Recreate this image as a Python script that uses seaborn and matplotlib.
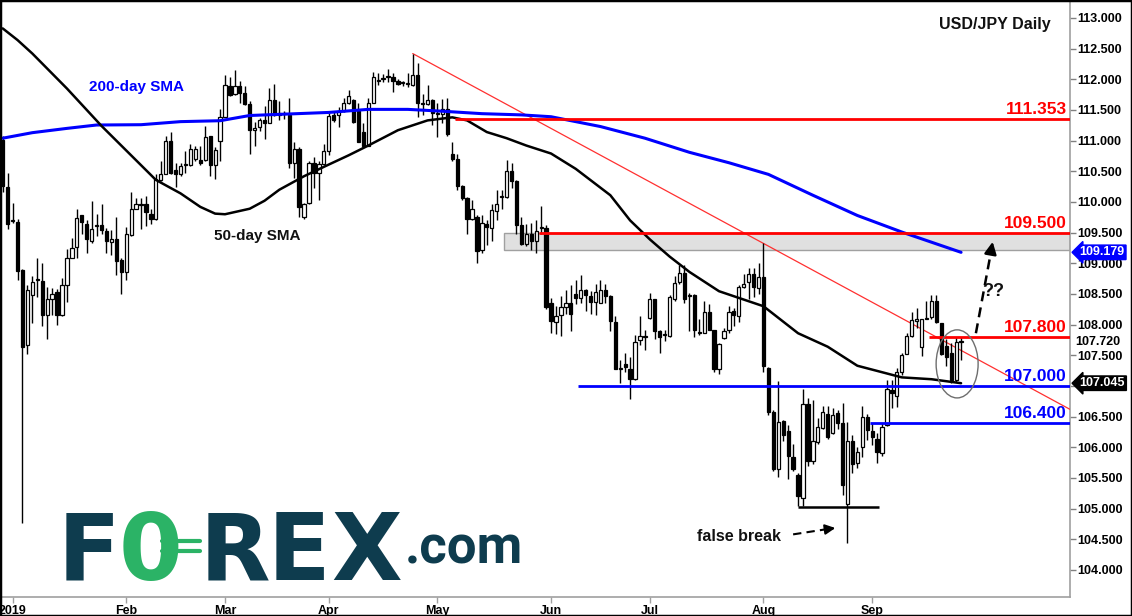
import numpy as np
import pandas as pd
import matplotlib
matplotlib.use('Agg')
import matplotlib.pyplot as plt
from matplotlib.patches import Rectangle, Ellipse
import seaborn as sns

#%%% data - USD/JPY daily candles (weekdays, Dec 28 2018 .. Sep 26 2019)
dates = pd.bdate_range('2018-12-28', '2019-09-26')

opens = [111.01, 110.25, 109.69, 109.67, 108.89, 107.67, 108.48, 108.73, 108.71, 108.16,
         108.42, 108.53, 108.16, 108.65, 109.09, 109.26, 109.78, 109.64, 109.37, 109.61,
         109.62, 109.52, 109.34, 109.39, 109.05, 108.86, 109.46, 109.89, 109.95, 109.97,
         109.81, 109.72, 110.36, 110.46, 111.00, 110.52, 110.45, 110.61, 110.61, 110.70,
         110.68, 110.68, 111.08, 110.60, 111.00, 111.39, 111.89, 111.76, 111.89, 111.78,
         111.59, 111.18, 111.23, 111.34, 111.29, 111.66, 111.45, 111.44, 111.42, 110.64,
         110.86, 109.76, 109.98, 110.63, 110.47, 110.62, 110.83, 111.42, 111.42, 111.48,
         111.62, 111.67, 111.49, 111.14, 110.92, 111.62, 111.98, 112.01, 112.04, 112.03,
         111.98, 111.94, 111.93, 111.91, 112.07, 111.62, 111.59, 111.66, 111.44, 111.44,
         111.51, 110.78, 110.70, 110.26, 110.06, 109.72, 109.76, 109.22, 109.64, 109.58,
         109.86, 110.08, 110.08, 110.51, 110.35, 109.62, 109.31, 109.47, 109.37, 109.58,
         109.58, 108.36, 108.05, 108.16, 108.28, 108.36, 108.50, 108.43, 108.56, 108.47,
         108.37, 108.36, 108.56, 108.46, 108.05, 107.27, 107.36, 107.28, 107.11, 107.75,
         107.80, 108.11, 108.41, 107.89, 107.83, 107.81, 108.41, 108.69, 108.84, 108.47,
         108.48, 107.86, 107.87, 108.20, 107.91, 107.27, 107.78, 107.91, 108.22, 108.14,
         108.62, 108.70, 108.82, 108.60, 108.77, 107.30, 106.58, 105.64, 106.43, 106.27,
         105.84, 105.55, 105.17, 106.70, 105.77, 106.08, 106.31, 106.55, 106.23, 106.56,
         106.39, 105.08, 106.11, 105.74, 106.00, 106.49, 106.27, 106.13, 105.91, 106.36,
         106.93, 106.84, 107.23, 107.52, 107.82, 108.06, 107.63, 108.10, 108.12, 108.39,
         108.02, 107.65, 107.53, 107.10, 107.71]
highs = [111.07, 110.48, 109.99, 109.73, 108.90, 108.64, 108.80, 109.08, 109.00, 108.61,
         108.60, 108.58, 108.76, 109.23, 109.41, 109.89, 109.78, 109.70, 110.01, 109.80,
         109.96, 109.58, 109.55, 109.75, 109.08, 109.59, 110.17, 110.06, 110.06, 110.09,
         109.89, 110.45, 110.67, 111.08, 111.14, 110.64, 110.64, 110.83, 110.95, 110.92,
         110.92, 111.24, 111.08, 110.89, 111.51, 112.07, 112.04, 112.15, 111.97, 111.89,
         111.64, 111.31, 111.37, 111.56, 111.86, 111.93, 111.64, 111.48, 111.70, 110.97,
         110.89, 109.98, 110.66, 110.73, 110.66, 110.95, 111.45, 111.49, 111.55, 111.70,
         111.83, 111.68, 111.61, 111.28, 111.70, 112.12, 112.11, 112.08, 112.17, 112.11,
         112.01, 111.98, 112.11, 112.42, 112.26, 111.76, 111.91, 111.68, 111.61, 111.68,
         111.70, 110.97, 110.79, 110.28, 110.08, 110.04, 109.78, 109.78, 109.70, 109.97,
         110.20, 110.20, 110.68, 110.64, 110.36, 109.75, 109.64, 109.65, 109.70, 109.93,
         109.62, 108.44, 108.30, 108.47, 108.56, 108.64, 108.72, 108.81, 108.58, 108.55,
         108.67, 108.73, 108.67, 108.48, 108.14, 107.42, 107.53, 107.48, 107.83, 108.14,
         107.92, 108.51, 108.42, 107.91, 107.92, 108.48, 108.80, 108.98, 108.98, 108.52,
         108.50, 108.10, 108.39, 108.33, 107.92, 107.70, 107.95, 108.30, 108.27, 108.64,
         108.83, 108.92, 108.92, 109.00, 109.33, 107.31, 106.61, 107.08, 106.45, 106.36,
         106.05, 105.58, 106.95, 106.80, 106.77, 106.48, 106.67, 106.67, 106.64, 106.61,
         106.73, 106.42, 106.20, 106.01, 106.67, 106.54, 106.39, 106.23, 106.39, 107.10,
         107.09, 107.29, 107.53, 107.87, 108.21, 108.27, 108.10, 108.38, 108.48, 108.48,
         108.03, 107.76, 107.70, 107.80, 107.80]
lows = [110.17, 109.56, 109.65, 108.72, 104.77, 107.52, 108.03, 108.45, 107.98, 107.76,
        108.16, 108.00, 108.14, 108.37, 109.08, 109.08, 109.48, 109.16, 109.33, 109.44,
        109.47, 109.17, 109.14, 108.81, 108.50, 108.72, 109.44, 109.88, 109.56, 109.61,
        109.64, 109.70, 110.35, 110.45, 110.45, 110.25, 110.42, 110.48, 110.58, 110.67,
        110.61, 110.67, 110.42, 110.37, 110.67, 111.39, 111.73, 111.74, 111.62, 111.58,
        110.79, 110.91, 111.15, 111.03, 111.29, 111.41, 111.33, 111.36, 110.56, 110.39,
        109.76, 109.73, 109.97, 110.23, 110.04, 110.61, 110.76, 111.31, 111.23, 111.47,
        111.60, 111.29, 110.97, 110.89, 110.91, 111.61, 111.91, 111.95, 111.95, 111.79,
        111.91, 111.89, 111.87, 111.89, 111.39, 111.42, 111.58, 111.26, 111.06, 111.29,
        111.08, 110.67, 110.19, 110.04, 109.48, 109.70, 109.01, 109.16, 109.30, 109.36,
        109.70, 109.89, 110.06, 110.23, 109.47, 109.30, 109.28, 109.22, 109.16, 109.47,
        108.26, 107.87, 107.85, 107.81, 108.18, 107.89, 108.33, 108.36, 108.22, 108.17,
        108.16, 108.35, 108.36, 107.90, 107.27, 107.05, 107.23, 106.78, 107.09, 107.66,
        107.58, 108.10, 107.76, 107.53, 107.73, 107.80, 108.39, 108.67, 108.35, 107.89,
        107.80, 107.83, 107.86, 107.91, 107.22, 107.20, 107.76, 107.86, 107.98, 108.05,
        108.60, 108.42, 108.45, 108.50, 107.23, 106.52, 105.62, 105.52, 106.11, 105.48,
        105.61, 105.05, 105.05, 105.70, 105.73, 106.05, 106.30, 106.14, 106.22, 106.30,
        105.23, 104.44, 105.58, 105.66, 105.84, 106.12, 106.04, 105.74, 105.86, 106.34,
        106.64, 106.66, 107.18, 107.52, 107.80, 107.94, 107.49, 108.09, 108.10, 108.02,
        107.50, 107.33, 107.05, 107.07, 107.42]
closes = [110.26, 109.64, 109.69, 108.88, 107.64, 108.56, 108.70, 108.73, 108.16, 108.42,
          108.50, 108.16, 108.64, 109.08, 109.25, 109.74, 109.67, 109.39, 109.56, 109.61,
          109.55, 109.36, 109.39, 109.03, 108.86, 109.48, 109.88, 109.96, 109.95, 109.83,
          109.72, 110.38, 110.46, 111.00, 110.48, 110.45, 110.58, 110.61, 110.86, 110.86,
          110.64, 111.06, 110.60, 110.84, 111.39, 111.91, 111.75, 111.89, 111.78, 111.59,
          111.17, 111.21, 111.34, 111.29, 111.66, 111.42, 111.42, 111.44, 110.64, 110.86,
          109.92, 109.97, 110.64, 110.48, 110.62, 110.83, 111.41, 111.34, 111.48, 111.62,
          111.73, 111.31, 110.98, 110.92, 111.62, 112.04, 111.98, 112.01, 112.04, 111.98,
          111.93, 111.94, 111.93, 112.07, 111.61, 111.59, 111.66, 111.45, 111.44, 111.51,
          111.11, 110.70, 110.26, 110.06, 109.72, 109.89, 109.20, 109.65, 109.59, 109.87,
          109.96, 110.08, 110.51, 110.35, 109.62, 109.31, 109.47, 109.37, 109.53, 109.58,
          108.28, 108.06, 108.14, 108.28, 108.36, 108.18, 108.43, 108.56, 108.48, 108.37,
          108.53, 108.56, 108.47, 108.06, 107.28, 107.30, 107.31, 107.11, 107.72, 107.81,
          107.80, 108.41, 107.89, 107.80, 107.83, 108.45, 108.68, 108.84, 108.42, 108.47,
          107.92, 107.86, 108.20, 107.92, 107.27, 107.69, 107.89, 108.20, 108.16, 108.62,
          108.66, 108.82, 108.61, 108.77, 107.33, 106.58, 105.64, 106.42, 106.20, 105.86,
          105.64, 105.20, 106.70, 105.77, 106.11, 106.33, 106.58, 106.17, 106.52, 106.39,
          105.39, 106.11, 105.73, 105.93, 106.49, 106.28, 106.17, 105.93, 106.33, 106.95,
          106.89, 107.23, 107.50, 107.82, 108.08, 108.10, 108.09, 108.10, 108.39, 108.05,
          107.52, 107.48, 107.10, 107.72, 107.73]

# moving averages
sma200_dates = ['2018-12-28', '2019-01-07', '2019-01-16', '2019-01-24', '2019-02-06', '2019-02-18',
                '2019-02-28', '2019-03-08', '2019-04-01', '2019-04-11', '2019-04-23', '2019-05-02',
                '2019-05-14', '2019-05-24', '2019-06-03', '2019-06-17', '2019-06-28', '2019-07-11',
                '2019-07-23', '2019-08-02', '2019-08-15', '2019-08-28', '2019-09-10', '2019-09-26']
sma200_vals = [111.04, 111.13, 111.20, 111.255, 111.26, 111.31,
               111.325, 111.41, 111.46, 111.51, 111.51, 111.48,
               111.44, 111.42, 111.39, 111.23, 111.04, 110.81,
               110.64, 110.45, 110.11, 109.78, 109.51, 109.179]
sma50_dates = ['2018-12-28', '2019-01-02', '2019-01-07', '2019-01-16', '2019-01-25', '2019-02-06',
               '2019-02-11', '2019-02-18', '2019-02-22', '2019-02-27', '2019-03-01', '2019-03-08',
               '2019-03-13', '2019-03-18', '2019-03-25', '2019-04-01', '2019-04-05', '2019-04-11',
               '2019-04-19', '2019-04-29', '2019-05-06', '2019-05-09', '2019-05-15', '2019-05-21',
               '2019-05-27', '2019-06-03', '2019-06-10', '2019-06-19', '2019-06-25', '2019-07-01',
               '2019-07-05', '2019-07-11', '2019-07-19', '2019-08-01', '2019-08-12', '2019-08-20',
               '2019-08-28', '2019-09-10', '2019-09-18', '2019-09-26']
sma50_vals = [112.83, 112.64, 112.42, 111.85, 111.24, 110.60,
              110.36, 110.14, 109.92, 109.81, 109.80, 109.89,
              110.02, 110.20, 110.42, 110.61, 110.76, 110.92,
              111.17, 111.33, 111.38, 111.33, 111.14, 111.04,
              110.92, 110.79, 110.54, 110.11, 109.70, 109.39,
              109.11, 108.86, 108.545, 108.30, 107.86, 107.64,
              107.33, 107.14, 107.11, 107.045]

# drawn levels
red_levels = [111.353, 109.500, 107.800]
red_starts = ['2019-05-07', '2019-05-30', '2019-09-18']
blue_levels = [107.000, 106.400]
blue_starts = ['2019-06-11', '2019-09-02']
zone_low, zone_high, zone_start = 109.22, 109.50, '2019-05-21'
trend_dates = ['2019-04-24', '2019-09-26']
trend_vals = [112.42, 107.58]
base_level, base_start, base_end = 105.03, '2019-08-12', '2019-09-03'
last_price = 107.720

yticks = np.arange(104.0, 113.01, 0.5)
month_starts = ['2019-01-01', '2019-02-01', '2019-03-01', '2019-04-01', '2019-05-01',
                '2019-06-01', '2019-07-01', '2019-08-01', '2019-09-01']
month_labels = ['2019', 'Feb', 'Mar', 'Apr', 'May', 'Jun', 'Jul', 'Aug', 'Sep']

#%%% plot
sns.set_theme(style='white')
plt.rcParams['font.family'] = ['Liberation Sans', 'DejaVu Sans']

W, H = 1132, 616
fig = plt.figure(figsize=(W / 100, H / 100), dpi=100)
ax = fig.add_axes([0, 19 / H, 1070 / W, 596 / H])
XMAX = 216.05


def pos_of(d):
    return int(dates.searchsorted(pd.Timestamp(d)))


pos = np.arange(len(dates))
o = np.array(opens); hi = np.array(highs); lo = np.array(lows); c = np.array(closes)
up = c >= o

# candles
ax.vlines(pos, lo, hi, color='black', lw=1, zorder=4)
body = np.maximum(np.abs(c - o), 0.012)
ax.bar(pos, body, bottom=np.minimum(o, c), width=0.66,
       color=np.where(up, 'white', 'black'), edgecolor='black', linewidth=0.9, zorder=5)

# moving averages
s200 = pd.DataFrame({'x': [pos_of(d) for d in sma200_dates], 'y': sma200_vals})
s50 = pd.DataFrame({'x': [pos_of(d) for d in sma50_dates], 'y': sma50_vals})
sns.lineplot(data=s200, x='x', y='y', ax=ax, color='#0000ff', lw=2.2, zorder=6)
sns.lineplot(data=s50, x='x', y='y', ax=ax, color='black', lw=1.8, zorder=6)

# grey zone
zx = pos_of(zone_start) - 0.5
ax.add_patch(Rectangle((zx, zone_low), XMAX - zx, zone_high - zone_low,
                       fc='#e0e0e0', ec='#a0a0a0', lw=1, zorder=1))

# trend line (extended to the right edge)
tx = [pos_of(d) for d in trend_dates]
slope = (trend_vals[1] - trend_vals[0]) / (tx[1] - tx[0])
ax.plot([tx[0], XMAX], [trend_vals[0], trend_vals[0] + slope * (XMAX - tx[0])],
        color='#ff3030', lw=0.9, zorder=3)

# levels
for lv, st in zip(red_levels, red_starts):
    ax.hlines(lv, pos_of(st) - 0.5, XMAX, color='#ff0000', lw=2, zorder=7)
    ax.text(215.4, lv + 0.025, f'{lv:.3f}', ha='right', va='bottom', color='#ff0000',
            fontsize=12.5, fontweight='bold', zorder=8)
for lv, st in zip(blue_levels, blue_starts):
    ax.hlines(lv, pos_of(st) - 0.5, XMAX, color='#0000ff', lw=2, zorder=7)
    ax.text(215.4, lv + 0.025, f'{lv:.3f}', ha='right', va='bottom', color='#0000ff',
            fontsize=12.5, fontweight='bold', zorder=8)
ax.hlines(base_level, pos_of(base_start), pos_of(base_end) + 0.4, color='black', lw=1.8, zorder=7)

# annotations
last = len(dates) - 1
ax.add_patch(Ellipse((last - 1 + 0.2, 107.36), 8.5, 1.11, fill=False, ec='#6e6e6e', lw=1, zorder=8))
ax.plot([last + 3, last + 6.2], [107.86, 109.25], color='black', lw=1.8, ls=(0, (4, 2.5)), zorder=8)
ax.annotate('', xy=(last + 6.5, 109.395), xytext=(last + 6.0, 109.17),
            arrowprops=dict(arrowstyle='-|>,head_length=0.6,head_width=0.3', color='black', lw=1.8),
            zorder=8)
ax.text(last + 4.2, 108.47, '??', fontsize=13, fontweight='bold', color='#111111', zorder=8)

fb = pos_of('2019-07-25')
ax.text(fb, 104.55, 'false break', ha='center', va='center', fontsize=11.5, fontweight='bold',
        color='#111111', zorder=8)
ax.plot([fb + 11, fb + 18.6], [104.58, 104.675], color='black', lw=1.5, ls=(0, (4, 2.5)), zorder=8)
ax.annotate('', xy=(fb + 20.1, 104.69), xytext=(fb + 18.3, 104.67),
            arrowprops=dict(arrowstyle='-|>,head_length=0.5,head_width=0.25', color='black', lw=1.5),
            zorder=8)

ax.text(last + 6.8, 112.90, 'USD/JPY Daily', ha='center', va='center', fontsize=11.5,
        fontweight='bold', color='#111111')
ax.text(pos_of('2019-02-05'), 111.875, '200-day SMA', ha='center', va='center', fontsize=11,
        fontweight='bold', color='#0000ff')
ax.text(pos_of('2019-03-12') - 0.4, 109.45, '50-day SMA', ha='center', va='center', fontsize=11,
        fontweight='bold', color='#111111')

# axes styling
ax.set_xlim(-0.55, XMAX)
ax.set_ylim(103.559, 113.277)
ax.set_xlabel('')
ax.set_ylabel('')
for side in ['left', 'top']:
    ax.spines[side].set_visible(False)
for side in ['right', 'bottom']:
    ax.spines[side].set_color('#a0a0a0')
    ax.spines[side].set_linewidth(1.2)
ax.yaxis.tick_right()
ax.set_yticks(yticks)
# the 107.000 label sits under the 50-day SMA price tag, so it is left blank
ax.set_yticklabels(['' if abs(v - 107.0) < 1e-6 else f'{v:.3f}' for v in yticks])
ax.set_xticks([pos_of(d) for d in month_starts])
ax.set_xticklabels(month_labels)
ax.tick_params(axis='y', length=4, width=1, color='#808080', pad=1, labelsize=9, labelcolor='black')
ax.tick_params(axis='x', length=4, width=1, color='#a0a0a0', pad=2, labelsize=9, labelcolor='black',
               bottom=True)
for lab in ax.get_yticklabels() + ax.get_xticklabels():
    lab.set_fontweight('bold')

# price tags on the axis
ytr = ax.get_yaxis_transform()
ax.text(1.009, sma200_vals[-1], f'{sma200_vals[-1]:.3f}', transform=ytr, ha='left', va='center',
        color='white', fontsize=9, fontweight='bold', clip_on=False, zorder=9,
        bbox=dict(boxstyle='larrow,pad=0.1', fc='#0000ff', ec='#0000ff'))
ax.text(1.009, sma50_vals[-1], f'{sma50_vals[-1]:.3f}', transform=ytr, ha='left', va='center',
        color='white', fontsize=9, fontweight='bold', clip_on=False, zorder=9,
        bbox=dict(boxstyle='larrow,pad=0.1', fc='black', ec='black'))
ax.text(1.0045, last_price, f'{last_price:.3f}', transform=ytr, ha='left', va='center',
        color='black', fontsize=9, fontweight='bold', clip_on=False, zorder=9)

# FOREX.com logo
navy, green = '#0e3c4e', '#2bb366'


def fx(px):
    return px / W


def fy(py):
    return 1 - py / H


for ch, x0, col in [('F', 58, navy), ('0', 119, green), ('R', 200, navy), ('E', 268, navy), ('X', 331, navy)]:
    fig.text(fx(x0), fy(580), ch, fontsize=66, fontweight='bold', family='DejaVu Sans',
             color=col, va='baseline', ha='left')
for yy in (541, 551):
    fig.add_artist(plt.Line2D([fx(162), fx(200)], [fy(yy), fy(yy)], transform=fig.transFigure,
                              color=green, lw=3))
fig.text(fx(405), fy(563), '.com', fontsize=38, fontweight='bold', family='Roboto',
         color=navy, va='baseline', ha='left')

fig.add_artist(Rectangle((0, 0), 1, 1, transform=fig.transFigure, fill=False, ec='black', lw=2.5))

fig.savefig('out.png', dpi=100)
